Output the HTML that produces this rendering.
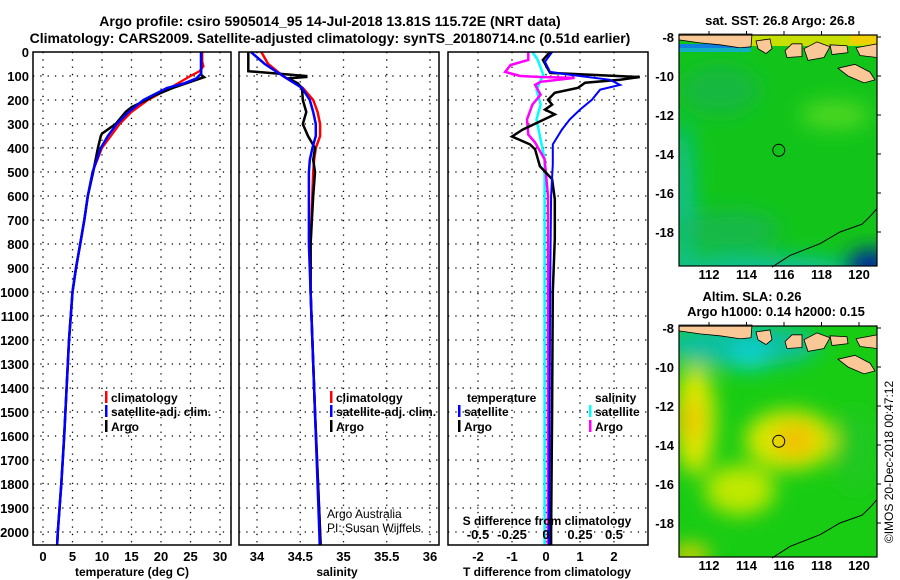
<!DOCTYPE html>
<html><head><meta charset="utf-8"><style>
body{margin:0;background:#fff;}
svg{display:block;font-family:"Liberation Sans",sans-serif;font-weight:bold;}
</style></head><body>
<svg id="c" width="900" height="580" viewBox="0 0 900 580">
<defs>
<filter id="bl" x="-50%" y="-50%" width="200%" height="200%"><feGaussianBlur stdDeviation="10"/></filter>
<clipPath id="m1c"><rect x="679" y="35" width="198" height="231"/></clipPath>
<clipPath id="m2c"><rect x="679" y="326" width="198" height="231"/></clipPath>
<clipPath id="p1c"><rect x="33" y="52" width="198" height="493"/></clipPath>
<clipPath id="p2c"><rect x="239" y="52" width="200" height="493"/></clipPath>
<clipPath id="p3c"><rect x="448" y="52" width="200" height="493"/></clipPath>
</defs>
<text x="330" y="26" font-size="14" text-anchor="middle">Argo profile: csiro 5905014_95 14-Jul-2018 13.81S 115.72E (NRT data)</text>
<text x="330" y="43" font-size="14" text-anchor="middle">Climatology: CARS2009. Satellite-adjusted climatology: synTS_20180714.nc (0.51d earlier)</text>
<g id="plots"></g>
<g id="maps">
 <g clip-path="url(#m1c)">
  <rect x="679" y="35" width="198" height="231" fill="#12c41a"/>
  <g filter="url(#bl)">
   <ellipse cx="683" cy="200" rx="10" ry="80" fill="#10c0a0"/>
   <ellipse cx="760" cy="270" rx="100" ry="14" fill="#10c0a0"/>
   <ellipse cx="835" cy="115" rx="35" ry="14" fill="#50d820"/>
   <ellipse cx="720" cy="90" rx="40" ry="25" fill="#14b840"/>
   <ellipse cx="730" cy="230" rx="50" ry="20" fill="#14b848"/>
  </g>
  <ellipse cx="870" cy="265" rx="22" ry="16" fill="#0020a0" filter="url(#bl)"/>
  <rect x="750" y="35" width="127" height="11" fill="#c8e000"/>
  <rect x="850" y="35" width="27" height="9" fill="#f0d000"/>
  <rect x="679" y="44" width="72" height="4" fill="#1080e0"/>
  <rect x="679" y="48" width="72" height="4" fill="#10b0c0"/>
 </g>
 <g clip-path="url(#m2c)">
  <rect x="679" y="326" width="198" height="231" fill="#18cc14"/>
  <g filter="url(#bl)">
   <ellipse cx="740" cy="345" rx="80" ry="22" fill="#10c0a0"/>
   <ellipse cx="750" cy="355" rx="20" ry="15" fill="#10d0d0"/>
   <ellipse cx="695" cy="420" rx="20" ry="55" fill="#e0e800"/>
   <ellipse cx="690" cy="420" rx="10" ry="20" fill="#f0c000"/>
   <ellipse cx="790" cy="440" rx="45" ry="30" fill="#d8e800"/>
   <ellipse cx="795" cy="440" rx="22" ry="18" fill="#f0c000"/>
   <ellipse cx="740" cy="490" rx="35" ry="25" fill="#c0e800"/>
   <ellipse cx="690" cy="555" rx="20" ry="10" fill="#f0d000"/>
   <ellipse cx="855" cy="450" rx="20" ry="40" fill="#20c820"/>
  </g>
 </g>
 <g id="land"></g>
</g>
<text x="893" y="462" font-size="12" font-weight="normal" text-anchor="middle" transform="rotate(-90 893 462)">©IMOS 20-Dec-2018 00:47:12</text>
<text x="780" y="25" font-size="13" text-anchor="middle">sat. SST: 26.8 Argo: 26.8</text>
<text x="752" y="301" font-size="13" text-anchor="middle">Altim. SLA: 0.26</text>
<text x="776" y="316" font-size="13" text-anchor="middle">Argo h1000: 0.14 h2000: 0.15</text>
</svg>
<script>
// ---- data ----
const depthTicks=[0,100,200,300,400,500,600,700,800,900,1000,1100,1200,1300,1400,1500,1600,1700,1800,1900,2000];
const tempTicks=[0,5,10,15,20,25,30];
const salTicks=[34,34.5,35,35.5,36];
const tdiffTicks=[-2,-1,0,1,2];
const sdiffTickLabels=["-0.5","-0.25","0","0.25","0.5"];
const sdiffTicks=[-0.5,-0.25,0,0.25,0.5];

const tArgoDepth=[0,95,105,120,150,180,200,230,250,300,340,350,400,500,600,700,800,900,1000,1200,1400,1600,1800,2000,2100];
const tArgo=[26.8,26.8,27.3,25.5,22,19,17.5,15,14,12.3,10,9.8,9.3,8.5,7.6,7,6.3,5.6,5,4.4,4,3.6,3.1,2.5,2.3];
const tClimDepth=[0,40,60,80,100,150,200,250,300,350,400,500,600,700,800,900,1000,1200,1400,1600,1800,2000,2100];
const tClim=[27,27,27.2,26.5,25,21.5,17.8,15,13,11.5,10,8.4,7.6,7,6.3,5.6,5,4.4,4,3.6,3.1,2.5,2.3];
const tSatDepth=[0,90,110,130,150,200,250,300,350,400,500,600,700,800,900,1000,1200,1400,1600,1800,2000,2100];
const tSat=[26.8,26.8,26,24,21,17,14.5,12.5,11,9.8,8.4,7.6,7,6.3,5.6,5,4.4,4,3.6,3.1,2.5,2.3];

const sArgoDepth=[0,80,100,104,110,130,150,200,250,300,350,400,450,500,600,800,1000,1500,2000,2100];
const sArgo=[33.9,33.9,34.57,34.57,34.36,34.47,34.52,34.53,34.57,34.53,34.59,34.67,34.65,34.67,34.65,34.62,34.62,34.67,34.73,34.74];
const sClimDepth=[0,50,100,150,200,250,300,350,400,450,500,800,1000,1500,2000,2100];
const sClim=[34.05,34.13,34.3,34.53,34.65,34.7,34.73,34.73,34.68,34.66,34.65,34.62,34.62,34.67,34.73,34.74];
const sSatDepth=[0,50,100,150,200,250,300,350,400,450,500,800,1000,1500,2000,2100];
const sSat=[33.93,34.09,34.3,34.52,34.61,34.65,34.68,34.68,34.64,34.61,34.6,34.6,34.62,34.67,34.72,34.73];

const dtArgoDepth=[0,33,87,104,116,128,149,170,199,219,240,260,323,352,385,406,476,530,613,778,1000,1500,2000,2100];
const dtArgo=[0.12,-0.09,0.12,2.76,2.18,1.15,0.94,0.26,0.06,0.18,-0.03,0.26,-0.68,-1.0,-0.47,-0.32,-0.18,0.18,0.26,0.26,0.2,0.18,0.15,0.15];
const dtSatDepth=[0,41,83,95,116,137,157,199,240,281,323,385,468,600,1000,2000,2100];
const dtSat=[0.18,-0.03,0.12,0.7,1.88,2.18,1.59,1.35,1.0,0.7,0.47,0.2,0.2,0.15,0.12,0.09,0.09];
const dsArgoDepth=[0,33,54,83,100,104,108,124,137,178,219,281,344,377,447,600,1000,2000,2100];
const dsArgo=[-0.13,-0.13,-0.26,-0.30,-0.19,-0.04,0.21,-0.04,-0.08,-0.04,-0.10,-0.14,-0.13,-0.08,-0.01,0.015,0.015,0.015,0.015];
const dsSatDepth=[0,33,95,157,219,281,364,447,600,2000,2100];
const dsSat=[-0.1,-0.06,-0.02,-0.07,-0.04,-0.07,-0.04,-0.01,-0.01,-0.01,-0.01];

const mapLonTicks=[112,114,116,118,120];
const mapLatTicks=[-8,-10,-12,-14,-16,-18];
const argoLon=115.72, argoLat=-13.81;

// ---- helpers ----
const NS="http://www.w3.org/2000/svg";
const root=document.getElementById('plots');
const PB=545;
function mk(tag,attrs,parent,txt){const e=document.createElementNS(NS,tag);for(const k in attrs)e.setAttribute(k,attrs[k]);if(txt!==undefined)e.textContent=txt;(parent||root).appendChild(e);return e;}
const Y=d=>52+d*0.2400;
const panels=[
 {x0:33,x1:231,X:v=>43+v*5.9,clip:'p1c',name:'temperature'},
 {x0:239,x1:439,X:v=>257+(v-34)*86.5,clip:'p2c',name:'salinity'},
 {x0:448,x1:648,X:v=>546+v*34,clip:'p3c',name:'difference'}
];
const XS=v=>546+v*136;

function grid(p,ticks,X){
 for(const d of depthTicks){if(d===0)continue;
  const l=mk('line',{x1:p.x0,x2:p.x1,y1:Y(d),y2:Y(d),stroke:'#000','stroke-width':1.3,'stroke-dasharray':'1.3 6'});
  }
 for(const t of ticks){
  const l=mk('line',{x1:X(t),x2:X(t),y1:52,y2:PB,stroke:'#000','stroke-width':1.3,'stroke-dasharray':'1.3 6'});
  }
}
function frame(p){const r=mk('rect',{x:p.x0,y:52,width:p.x1-p.x0,height:PB-52,fill:'none',stroke:'#000','stroke-width':1.5});
 }
function line(depths,vals,X,color,w,clip,name){
 const pts=depths.map((d,i)=>X(vals[i]).toFixed(1)+','+Y(d).toFixed(1)).join(' ');
 const l=mk('polyline',{points:pts,fill:'none',stroke:color,'stroke-width':w,'clip-path':'url(#'+clip+')'});
 }
function txt(x,y,s,size,anchor,name,weight){const t=mk('text',{x:x,y:y,'font-size':size,'text-anchor':anchor||'start'},root,s);
 if(weight)t.setAttribute('font-weight',weight);
 return t;}
function legend(x,y,color,label,name){
 const r=mk('rect',{x:x,y:y-11,width:2.5,height:12,fill:color});
 
 txt(x+6,y,label,12,'start',name+'-label');}

// Panel 1
let p=panels[0];grid(p,tempTicks,p.X);
line(tClimDepth,tClim,p.X,'#f00',2.2,p.clip,'temp-climatology-line');
line(tArgoDepth,tArgo,p.X,'#000',2.5,p.clip,'temp-argo-line');
line(tSatDepth,tSat,p.X,'#00f',2.5,p.clip,'temp-satellite-line');
frame(p);
for(const t of tempTicks)txt(p.X(t),561,String(t),13,'middle','temp-tick-label');
for(const d of depthTicks)txt(29,Y(d)+5,String(d),13,'end','depth-tick-label');
legend(105,402,'#f00','climatology','legend-temp-climatology');
legend(105,416,'#00f','satellite-adj. clim.','legend-temp-satellite');
legend(105,431,'#000','Argo','legend-temp-argo');
// Panel 2
p=panels[1];grid(p,salTicks,p.X);
line(sClimDepth,sClim,p.X,'#f00',2.5,p.clip,'sal-climatology-line');
line(sArgoDepth,sArgo,p.X,'#000',2.5,p.clip,'sal-argo-line');
line(sSatDepth,sSat,p.X,'#00f',2.5,p.clip,'sal-satellite-line');
frame(p);
for(const t of salTicks)txt(p.X(t),561,String(t),13,'middle','sal-tick-label');
legend(330,402,'#f00','climatology','legend-sal-climatology');
legend(330,416,'#00f','satellite-adj. clim.','legend-sal-satellite');
legend(330,431,'#000','Argo','legend-sal-argo');
txt(327,518,'Argo Australia',12,'start','credit-argo-australia','normal');
txt(327,532,'PI: Susan Wijffels',12,'start','credit-pi','normal');
// Panel 3
p=panels[2];grid(p,tdiffTicks,p.X);
line(dsSatDepth,dsSat,XS,'#0ff',2.5,p.clip,'sdiff-satellite-line');
line(dsArgoDepth,dsArgo,XS,'#f0f',2.5,p.clip,'sdiff-argo-line');
line(dtArgoDepth,dtArgo,p.X,'#000',2.5,p.clip,'tdiff-argo-line');
line(dtSatDepth,dtSat,p.X,'#00f',2,p.clip,'tdiff-satellite-line');
frame(p);
for(const t of tdiffTicks)txt(p.X(t),561,String(t),13,'middle','tdiff-tick-label');
sdiffTicks.forEach((t,i)=>txt(XS(t),539,sdiffTickLabels[i],13,'middle','sdiff-tick-label'));
txt(547,525,'S difference from climatology',12,'middle','sdiff-axis-title');
txt(467,402,'temperature',12,'start','legend-temperature-heading');
legend(458,416,'#00f','satellite','legend-tdiff-satellite');
legend(458,431,'#000','Argo','legend-tdiff-argo');
txt(595,402,'salinity',12,'start','legend-salinity-heading');
legend(589,416,'#0ff','satellite','legend-sdiff-satellite');
legend(589,431,'#f0f','Argo','legend-sdiff-argo');
txt(132,576,'temperature (deg C)',12,'middle','temp-axis-title');
txt(337,576,'salinity',12,'middle','sal-axis-title');
txt(547,576,'T difference from climatology',12,'middle','tdiff-axis-title');

// ---- maps ----
const land=document.getElementById('land');
function MX(lon){return 679+(lon-110.4)*18.75;}
function drawMap(top,name){
 const MY=lat=>top+2+(-8-lat)*19.5;
 const g=mk('g',{},land);
 const shapes=[
  `M679,${MY(-8)-3} L752,${MY(-8)-3} L751,${MY(-8.5)} L740,${MY(-8.55)} L720,${MY(-8.4)} L700,${MY(-8.3)} L679,${MY(-8.15)}Z`,
  `M756,${MY(-8.2)} L770,${MY(-8.1)} L772,${MY(-8.6)} L766,${MY(-8.85)} L758,${MY(-8.6)}Z`,
  `M785,${MY(-8.7)} L792,${MY(-8.35)} L802,${MY(-8.35)} L802,${MY(-9)} L787,${MY(-9.05)}Z`,
  `M804,${MY(-8.6)} L817,${MY(-8.25)} L830,${MY(-8.5)} L824,${MY(-9.05)} L808,${MY(-9.2)}Z`,
  `M830,${MY(-8.4)} L847,${MY(-8.45)} L848,${MY(-8.8)} L832,${MY(-8.9)}Z`,
  `M856,${MY(-8.55)} L877,${MY(-8.35)} L877,${MY(-9.05)} L860,${MY(-8.95)}Z`,
  `M838,${MY(-9.6)} L855,${MY(-9.4)} L870,${MY(-9.8)} L875,${MY(-10.2)} L864,${MY(-10.35)} L848,${MY(-10)}Z`
 ];
 for(const s of shapes){const pth=mk('path',{d:s,fill:'#f9c896',stroke:'#000','stroke-width':0.8},g);
  }
 const cl=mk('polyline',{points:`772,${MY(-19.8)} 790,${MY(-19.2)} 820,${MY(-18.6)} 840,${MY(-18)} 862,${MY(-17.6)} 870,${MY(-17.2)} 877,${MY(-16.8)}`,fill:'none',stroke:'#000','stroke-width':1},g);
 
 const c=mk('circle',{cx:MX(argoLon),cy:MY(argoLat),r:6,fill:'none',stroke:'#000','stroke-width':1},g);
 
 const fr=mk('rect',{x:679,y:top,width:198,height:231,fill:'none',stroke:'#000','stroke-width':1.2},g);
 
 for(const lon of mapLonTicks){
  const t=mk('text',{x:MX(lon),y:top+244,'font-size':13,'text-anchor':'middle'},g,String(lon));
  
  const tk=mk('line',{x1:MX(lon),x2:MX(lon),y1:top-4,y2:top,stroke:'#000'},g);
  }
 for(const lat of mapLatTicks){
  const t=mk('text',{x:674,y:MY(lat)+5,'font-size':13,'text-anchor':'end'},g,String(lat));
  
  const tk=mk('line',{x1:877,x2:881,y1:MY(lat),y2:MY(lat),stroke:'#000'},g);
  }
}
drawMap(35,'sst-map');
drawMap(326,'sla-map');
</script>
</body></html>
